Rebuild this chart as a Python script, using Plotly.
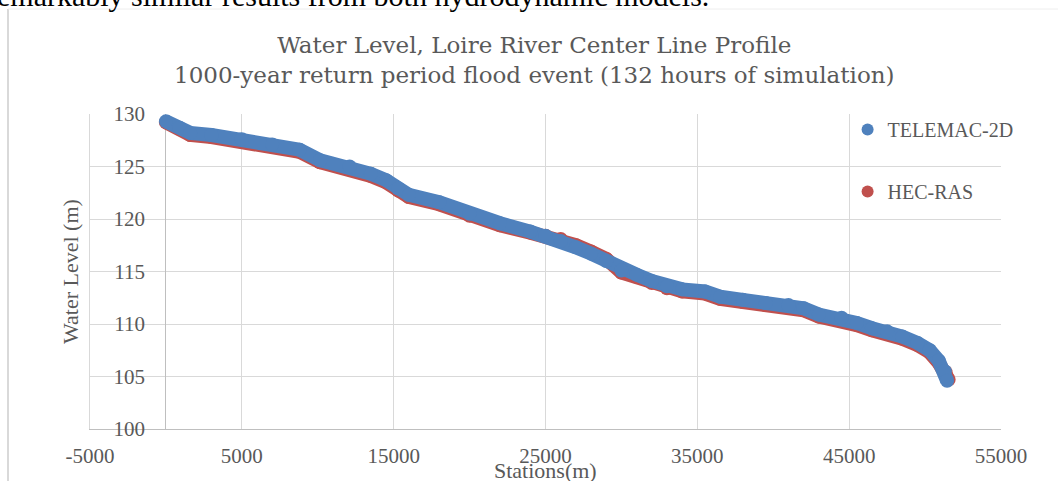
import plotly.graph_objects as go

# ---- data ----
tele_station = [0, 900, 1600, 3000, 5000, 7000, 8800, 10150, 12100, 13500, 14500, 15300, 16000,
                18000, 20000, 22000, 24000, 25000, 26000, 27000, 28000, 29000, 30000, 31000,
                32000, 33000, 34000, 35500, 36500, 38000, 39500, 41000, 42000, 43000, 44500,
                45500, 46500, 47500, 48500, 49500, 50300, 50900, 51300, 51450]
tele_level = [129.3, 128.7, 128.2, 128.0, 127.6, 127.1, 126.6, 125.6, 125.0, 124.3, 123.7, 122.9, 122.3,
              121.6, 120.5, 119.6, 118.8, 118.4, 117.9, 117.3, 116.7, 116.0, 115.1, 114.7,
              114.1, 113.6, 113.3, 113.1, 112.6, 112.3, 112.0, 111.8, 111.5, 110.9, 110.6,
              110.1, 109.6, 109.3, 108.8, 108.2, 107.5, 106.5, 105.5, 104.6]

hec_station = [0, 900, 1600, 3000, 5000, 7000, 8800, 10150, 12100, 13500, 14500, 15300, 16000,
               18000, 20000, 22000, 24000, 25000, 26000, 27000, 28000, 29000, 30000, 31000,
               32000, 33000, 34000, 35500, 36500, 38000, 39500, 41000, 42000, 43000, 44500,
               45500, 46500, 47500, 48500, 49500, 50300, 50900, 51350, 51550]
hec_level = [129.2, 128.6, 128.0, 127.8, 127.4, 126.9, 126.4, 125.4, 124.8, 124.1, 123.5, 122.7, 122.1,
             121.4, 120.3, 119.4, 118.7, 118.4, 118.1, 117.5, 116.9, 116.2, 114.9, 114.5,
             113.9, 113.4, 113.1, 112.9, 112.4, 112.1, 111.8, 111.6, 111.3, 110.7, 110.4,
             109.9, 109.4, 109.1, 108.6, 108.0, 107.3, 106.3, 105.4, 104.7]

x_ticks = [-5000, 5000, 15000, 25000, 35000, 45000, 55000]
y_ticks = [100, 105, 110, 115, 120, 125, 130]

BLUE = "#4f81bd"
RED = "#c0504d"
GREY_TXT = "#595959"
FONT = "Liberation Serif"
TFONT = "DejaVu Serif"

fig = go.Figure()

# HEC-RAS (behind)
fig.add_trace(go.Scatter(x=hec_station, y=hec_level, mode="lines",
                         line=dict(color=RED, width=14), showlegend=False,
                         hoverinfo="skip"))
fig.add_trace(go.Scatter(x=hec_station, y=hec_level, mode="markers", name="HEC-RAS",
                         marker=dict(color=RED, size=14), legendrank=2, legendgroup="hec"))
# TELEMAC-2D (front)
fig.add_trace(go.Scatter(x=tele_station, y=tele_level, mode="lines",
                         line=dict(color=BLUE, width=14), showlegend=False,
                         hoverinfo="skip"))
fig.add_trace(go.Scatter(x=tele_station, y=tele_level, mode="markers", name="TELEMAC-2D",
                         marker=dict(color=BLUE, size=14), legendrank=1, legendgroup="tele"))

fig.update_layout(
    width=1058, height=481,
    margin=dict(l=90, r=57, t=114, b=52, autoexpand=False),
    paper_bgcolor="white", plot_bgcolor="white",
    font=dict(family=FONT, color=GREY_TXT),
    title=dict(text="Water Level, Loire River Center Line Profile<br>1000-year return period flood event (132 hours of simulation)",
               x=0.505, xanchor="center", y=0.8896, yanchor="middle",
               font=dict(family=TFONT, size=23, color=GREY_TXT)),
    legend=dict(x=0.8316, xanchor="left", y=1.013, yanchor="top",
                font=dict(family=FONT, size=20, color=GREY_TXT),
                tracegroupgap=33, itemsizing="constant",
                bgcolor="rgba(0,0,0,0)"),
    showlegend=True,
)

fig.update_xaxes(range=[-5000, 55000], tickvals=x_ticks, ticktext=[str(v) for v in x_ticks],
                 showgrid=True, gridcolor="#d9d9d9", gridwidth=1,
                 zeroline=True, zerolinecolor="#bfbfbf", zerolinewidth=1,
                 showline=True, linecolor="#bfbfbf", linewidth=1, mirror=False,
                 ticks="outside", ticklen=8, tickcolor="rgba(0,0,0,0)",
                 tickfont=dict(family=FONT, size=21, color=GREY_TXT), automargin=False)
fig.update_yaxes(range=[100, 130], tickvals=y_ticks,
                 showgrid=True, gridcolor="#d9d9d9", gridwidth=1, zeroline=False,
                 showline=True, linecolor="#d9d9d9", linewidth=1,
                 showticklabels=False, ticks="", automargin=False)

# tick-label axis placed to the right of the plot's left edge, as in the reference
fig.update_layout(yaxis2=dict(overlaying="y", matches="y", anchor="free", side="left",
                              position=(145 - 90) / 911, range=[100, 130],
                              tickvals=y_ticks, ticktext=[str(v) for v in y_ticks],
                              showgrid=False, zeroline=False, showline=False,
                              ticks="", automargin=False,
                              tickfont=dict(family=FONT, size=21, color=GREY_TXT)))
fig.add_trace(go.Scatter(x=[None], y=[None], yaxis="y2", showlegend=False, hoverinfo="skip"))

# axis titles
fig.add_annotation(text="Stations(m)", xref="paper", yref="paper",
                   x=(545 - 90) / 911, y=(429 - 470) / 315, xanchor="center", yanchor="middle",
                   showarrow=False, font=dict(family=FONT, size=22, color=GREY_TXT))
fig.add_annotation(text="Water Level (m)", xref="paper", yref="paper", textangle=-90,
                   x=(70 - 90) / 911, y=(429 - 272) / 315, xanchor="center", yanchor="middle",
                   showarrow=False, font=dict(family=FONT, size=22, color=GREY_TXT))

# cropped document text above the chart
fig.add_annotation(text="emarkably similar results from both hydrodynamic models.",
                   xref="paper", yref="paper", x=(-5 - 90) / 911, y=(429 + 5) / 315,
                   xanchor="left", yanchor="middle", showarrow=False,
                   font=dict(family="Liberation Serif", size=30, color="black"))

# chart area border (left and top)
fig.add_shape(type="line", xref="paper", yref="paper",
              x0=(8 - 90) / 911, x1=(8 - 90) / 911, y0=(429 - 9) / 315, y1=(429 - 485) / 315,
              line=dict(color="#d9d9d9", width=2))
fig.add_shape(type="line", xref="paper", yref="paper",
              x0=(8 - 90) / 911, x1=(1060 - 90) / 911, y0=(429 - 9) / 315, y1=(429 - 9) / 315,
              line=dict(color="#eeeeee", width=1))

fig.write_html("out.html", config={"displayModeBar": False},
               post_script="document.body.style.margin='0px';document.body.style.padding='0px';")
